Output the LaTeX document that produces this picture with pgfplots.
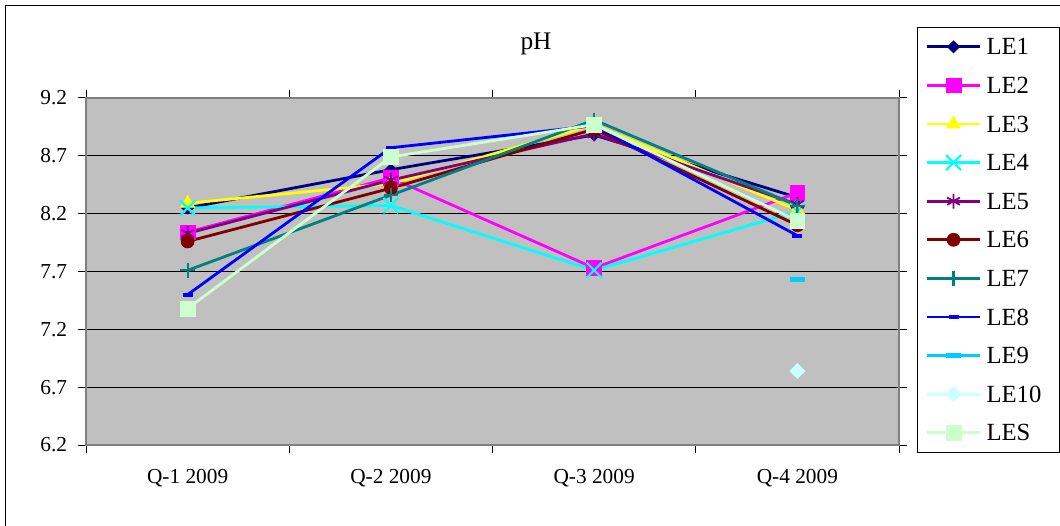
\documentclass[border=0pt]{standalone}
\usepackage{pgfplots}
\pgfplotsset{compat=1.18}
\usepackage{fontspec}
\setmainfont{Liberation Serif}
\definecolor{cA}{HTML}{000080}
\definecolor{cB}{HTML}{FF00FF}
\definecolor{cC}{HTML}{FFFF00}
\definecolor{cD}{HTML}{00FFFF}
\definecolor{cE}{HTML}{800080}
\definecolor{cF}{HTML}{800000}
\definecolor{cG}{HTML}{008080}
\definecolor{cH}{HTML}{0000FF}
\definecolor{cI}{HTML}{00CCFF}
\definecolor{cJ}{HTML}{CCFFFF}
\definecolor{cK}{HTML}{CCFFCC}
\definecolor{plotbg}{HTML}{C0C0C0}
\begin{document}
\begin{tikzpicture}
\useasboundingbox (0,0) rectangle (795pt,393.75pt);
\draw[black, line width=0.75pt] (3.75pt,-10pt) rectangle (810pt,389.25pt);
\begin{axis}[
  at={(64.5pt,60pt)}, anchor=south west,
  scale only axis, width=609.75pt, height=260.25pt,
  xmin=-0.5, xmax=3.5, ymin=6.2, ymax=9.2,
  ytick={6.2,6.7,7.2,7.7,8.2,8.7,9.2},
  yticklabels={6.2,6.7,7.2,7.7,8.2,8.7,9.2},
  xtick={-0.5,0.5,1.5,2.5,3.5}, xticklabels={},
  extra x ticks={0,1,2,3},
  extra x tick labels={Q-1 2009,Q-2 2009,Q-3 2009,Q-4 2009},
  extra x tick style={major tick length=0pt},
  tick align=outside, major tick length=6pt,
  tick style={black, line width=0.75pt},
  ymajorgrids, major grid style={black, line width=0.75pt},
  axis background/.style={fill=plotbg},
  axis line style={draw=gray, line width=1.5pt},
  ticklabel style={font=\fontsize{16}{18}\selectfont},
  yticklabel style={inner sep=0pt, xshift=-8pt},
  xticklabel style={anchor=base, inner sep=0pt, yshift=-29pt},
  title={pH},
  title style={at={(rel axis cs:0.5535,1.1153)}, anchor=base, inner sep=0pt, font=\fontsize{19}{21}\selectfont},
  legend cell align=left,
  legend image code/.code={\draw[mark repeat=2,mark phase=2] plot coordinates {(0pt,0pt)(20pt,0pt)(40pt,0pt)};},
  legend style={at={(rel axis cs:1.0221,1.2046)}, anchor=north west, draw=black, line width=0.75pt, fill=white,
    font=\fontsize{18.5}{20}\selectfont, inner xsep=6pt, inner ysep=0pt, row sep=0pt, column sep=3.75pt,
    nodes={inner sep=0pt, text height=20.5pt, text depth=8.45pt, text width=48.75pt, align=left}},
]
\addplot[cA, line width=2.1pt, mark=square*, mark size=3.2pt, mark options={solid, fill=cA, draw=cA, rotate=45, line width=0.5pt}]
  coordinates {(0,8.25) (1,8.58) (2,8.88) (3,8.34)};
\addlegendentry{LE1}
\addplot[cB, line width=2.1pt, mark=square*, mark size=5.5pt, mark options={solid, fill=cB, draw=cB, line width=0.5pt}]
  coordinates {(0,8.04) (1,8.51) (2,7.73) (3,8.38)};
\addlegendentry{LE2}
\addplot[cC, line width=2.1pt, mark=triangle*, mark size=6pt, mark options={solid, fill=cC, draw=cC, line width=0.5pt}]
  coordinates {(0,8.29) (1,8.46) (2,8.97) (3,8.23)};
\addlegendentry{LE3}
\addplot[cD, line width=2.1pt, mark=x, mark size=8pt, mark options={solid, draw=cD, line width=1.6pt}]
  coordinates {(0,8.25) (1,8.27) (2,7.71) (3,8.22)};
\addlegendentry{LE4}
\addplot[cE, line width=2.1pt, mark=asterisk, mark size=5.5pt, mark options={solid, draw=cE, line width=1.4pt}]
  coordinates {(0,8.03) (1,8.49) (2,8.89) (3,8.28)};
\addlegendentry{LE5}
\addplot[cF, line width=2.1pt, mark=*, mark size=4.9pt, mark options={solid, fill=cF, draw=cF, line width=0.5pt}]
  coordinates {(0,7.96) (1,8.42) (2,8.93) (3,8.10)};
\addlegendentry{LE6}
\addplot[cG, line width=2.1pt, mark=+, mark size=5.5pt, mark options={solid, draw=cG, line width=1.6pt}]
  coordinates {(0,7.71) (1,8.36) (2,9.01) (3,8.27)};
\addlegendentry{LE7}
\addplot[cH, line width=2.1pt, mark=-, mark size=3.75pt, mark options={solid, draw=cH, line width=3pt}]
  coordinates {(0,7.50) (1,8.77) (2,8.96) (3,8.01)};
\addlegendentry{LE8}
\addplot[cI, line width=2.1pt, mark=-, mark size=5.6pt, mark options={solid, draw=cI, line width=3.5pt}]
  coordinates {(3,7.63)};
\addlegendentry{LE9}
\addplot[cJ, line width=2.1pt, mark=square*, mark size=4pt, mark options={solid, fill=cJ, draw=cJ, rotate=45, line width=0.5pt}]
  coordinates {(3,6.84)};
\addlegendentry{LE10}
\addplot[cK, line width=2.1pt, mark=square*, mark size=5.5pt, mark options={solid, fill=cK, draw=cK, line width=0.5pt}]
  coordinates {(0,7.38) (1,8.69) (2,8.97) (3,8.14)};
\addlegendentry{LES}
\end{axis}
\end{tikzpicture}
\end{document}
